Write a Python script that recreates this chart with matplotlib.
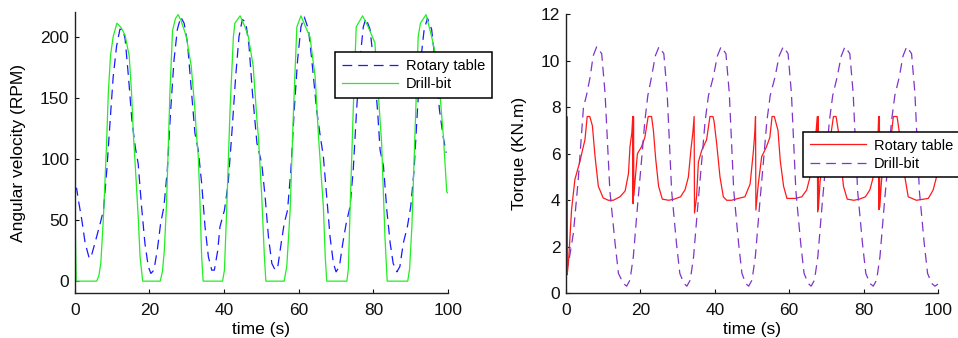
import matplotlib
matplotlib.use('Agg')
import matplotlib.pyplot as plt

plt.rcParams['font.family'] = ['Liberation Sans', 'DejaVu Sans']
plt.rcParams['lines.scale_dashes'] = False

# angular velocity (RPM), pairs (time s, value)
rotary_speed = [(0, 75), (0.5, 76), (1.0, 66), (1.9, 50), (2.8, 31), (3.9, 18.6), (4.4, 20), (5.4, 31),
                (6.8, 47), (7.7, 58), (8.6, 91), (9.5, 132), (10.3, 167), (11.2, 192), (12.1, 206),
                (12.9, 206), (13.5, 198), (14.4, 167), (15.3, 132), (16.2, 110), (17.0, 96), (17.9, 61),
                (18.8, 31), (19.7, 12), (20.4, 6.3), (21.2, 9), (22.1, 25), (23.0, 47), (23.9, 61),
                (24.8, 91), (25.7, 140), (26.6, 181), (27.5, 206), (28.4, 216), (29.3, 211), (30.2, 195),
                (31.3, 154), (32.2, 121), (33.1, 107), (34.0, 80), (34.9, 44.5), (35.8, 20), (36.7, 9),
                (37.4, 9), (38.3, 25), (38.9, 44.5), (40.1, 58), (41.1, 80), (42.2, 126), (43.1, 167),
                (44.0, 200), (44.9, 214), (45.8, 212), (46.7, 192), (47.6, 154), (48.8, 113), (50.1, 96),
                (51.0, 69), (51.9, 36), (52.8, 14.5), (53.7, 9), (54.4, 12), (55.3, 31), (56.1, 47),
                (57.0, 58), (57.9, 91), (58.8, 140), (59.7, 181), (60.6, 208), (61.5, 216), (62.6, 206),
                (63.5, 181), (64.8, 140), (65.8, 118), (66.6, 102), (67.5, 69), (68.4, 36), (69.3, 14.5),
                (70.0, 7.6), (70.9, 12), (71.8, 31), (72.7, 47), (73.75, 61), (74.6, 91), (75.5, 140),
                (76.4, 181), (77.3, 208), (78.0, 215), (79.1, 206), (80.0, 181), (81.1, 140), (81.8, 107),
                (82.7, 94), (83.6, 58), (84.5, 31), (85.3, 14.5), (86.3, 7.6), (87.1, 12), (88.0, 31),
                (89.1, 44.5), (90.0, 61), (90.9, 91), (91.8, 140), (92.7, 181), (93.6, 206), (94.5, 215),
                (95.6, 206), (96.5, 181), (97.7, 140), (98.7, 118), (99.5, 105)]

bit_speed = [(0, 70), (0.4, 0), (5.9, 0), (6.5, 5), (7.0, 15), (7.7, 53), (8.5, 110), (9.0, 154),
             (9.6, 185), (10.3, 200), (11.3, 211), (12.5, 207), (13.5, 201), (14.6, 184), (15.2, 155),
             (15.7, 121), (16.3, 90), (17.0, 53), (17.5, 20), (18.2, 0),
             (22.9, 0), (23.5, 8), (24.0, 25), (24.6, 64), (25.5, 154), (26.2, 205), (27.0, 215),
             (27.7, 218), (28.5, 213), (29.9, 200), (31.2, 176), (32.2, 140), (32.6, 120), (33.1, 102),
             (33.5, 69), (34.0, 20), (34.4, 0),
             (39.6, 0), (40.1, 9), (40.7, 58), (41.6, 140), (42.5, 200), (42.9, 211), (44.3, 217),
             (45.6, 208), (46.5, 200), (47.8, 176), (48.8, 132), (49.2, 118), (50.1, 69), (50.8, 20),
             (51.2, 0),
             (56.1, 0), (56.8, 12), (57.7, 58), (58.6, 140), (59.5, 208), (60.6, 217), (62.1, 206),
             (63.0, 200), (64.4, 167), (65.3, 118), (66.6, 61), (67.1, 20), (67.5, 0),
             (72.9, 0), (73.3, 10), (73.75, 58), (74.6, 140), (75.4, 208), (77.1, 217), (78.6, 208),
             (80.4, 195), (81.3, 154), (82.2, 113), (83.1, 36), (83.7, 0),
             (89.2, 0), (89.7, 10), (90.3, 44), (91.2, 126), (92.0, 200), (92.6, 211), (94.1, 218),
             (95.6, 200), (96.5, 187), (97.4, 170), (98.75, 118), (99.65, 73), (100, 72)]

# torque (KN.m), pairs (time s, value)
rotary_torque = [(0, 1.0), (0.08, 7.6), (0.16, 0.8), (0.24, 7.6), (0.32, 0.8), (0.45, 1.0), (0.7, 1.4),
                 (1.5, 3.6), (2.4, 4.9), (3.8, 5.7), (4.5, 6.2), (5.1, 6.6), (5.7, 7.6), (6.4, 7.6),
                 (7.1, 7.2), (7.8, 5.9), (8.7, 4.6), (10.0, 4.1), (11.4, 4.0), (12.7, 4.0), (14.5, 4.15),
                 (15.9, 4.4), (16.8, 5.15), (17.2, 6.3), (17.7, 6.9), (17.95, 7.6), (18.05, 3.85),
                 (18.15, 7.6), (18.25, 4.2),
                 (18.6, 4.9), (19.2, 6.0), (20.3, 6.3), (21.2, 6.7), (22.1, 7.6), (23.0, 7.6), (23.5, 7.0),
                 (24.1, 5.8), (24.9, 4.6), (25.9, 4.05), (27.6, 4.0), (29.1, 4.05), (30.8, 4.15),
                 (32.0, 4.45), (32.9, 5.0), (33.6, 6.2), (34.1, 6.9), (34.45, 7.6), (34.55, 3.45),
                 (35.1, 4.15), (35.6, 5.65), (36.5, 6.15), (37.8, 6.6), (38.7, 7.6), (39.5, 7.6),
                 (39.8, 7.4), (40.5, 6.45), (41.4, 5.0), (42.3, 4.15), (43.2, 4.0), (44.5, 4.0),
                 (46.3, 4.08), (48.1, 4.15), (49.5, 4.7), (50.4, 6.15), (50.8, 7.0), (50.95, 7.6),
                 (51.05, 3.58),
                 (51.7, 4.7), (52.6, 5.87), (53.9, 6.3), (54.8, 6.7), (55.4, 7.6), (56.0, 7.6), (57.0, 7.0),
                 (57.6, 5.7), (58.5, 4.6), (59.4, 4.08), (61.6, 4.08), (63.4, 4.15), (64.7, 4.44),
                 (65.6, 5.0), (66.6, 6.2), (67.2, 6.9), (67.55, 7.6), (67.65, 3.5), (67.75, 7.6),
                 (67.85, 3.6),
                 (68.3, 4.8), (69.0, 5.9), (70.2, 6.3), (71.1, 6.7), (71.9, 7.6), (72.6, 7.6), (73.2, 7.0),
                 (73.8, 5.8), (74.6, 4.6), (75.6, 4.05), (77.4, 4.0), (78.9, 4.05), (80.5, 4.15),
                 (81.7, 4.45), (82.6, 5.0), (83.4, 6.2), (83.9, 6.9), (84.05, 7.6), (84.15, 3.6),
                 (84.25, 7.6), (84.35, 3.7),
                 (84.8, 4.8), (85.5, 5.9), (86.7, 6.3), (87.4, 6.7), (88.0, 7.6), (89.0, 7.6), (89.9, 6.6),
                 (91.1, 5.0), (92.0, 4.15), (94.2, 4.0), (97.4, 4.08), (98.7, 4.44), (99.6, 5.0)]

bit_torque = [(0, 0.86), (1.0, 1.6), (2.0, 2.6), (3.3, 4.9), (4.7, 8.0), (5.5, 8.5), (6.5, 9.3),
              (7.3, 10.2), (8.25, 10.6), (9.6, 10.3), (10.5, 8.6), (11.8, 4.4), (13.2, 2.15),
              (14.1, 0.86), (15.4, 0.43), (16.3, 0.31),
              (17.2, 0.57), (18.1, 1.57), (19.2, 3.7), (20.3, 5.7), (21.2, 7.4), (22.0, 8.5), (23.0, 9.3),
              (24.0, 10.2), (25.0, 10.6), (26.3, 10.3), (27.2, 8.6), (28.4, 4.4), (29.7, 2.15),
              (30.6, 0.86), (31.7, 0.43), (32.5, 0.31),
              (33.4, 0.57), (34.3, 1.57), (35.4, 3.7), (36.5, 5.7), (37.4, 7.4), (38.3, 8.5), (39.6, 9.3),
              (40.7, 10.2), (41.7, 10.6), (43.0, 10.3), (43.9, 8.6), (45.1, 4.4), (46.4, 2.15),
              (47.3, 0.86), (48.3, 0.43), (49.1, 0.31),
              (50.0, 0.57), (50.9, 1.57), (52.0, 3.7), (53.1, 5.7), (54.0, 7.4), (54.9, 8.5), (56.2, 9.3),
              (57.3, 10.2), (58.4, 10.6), (59.7, 10.3), (60.6, 8.6), (61.8, 4.4), (63.1, 2.15),
              (64.0, 0.86), (65.1, 0.43), (65.9, 0.31),
              (66.8, 0.57), (67.7, 1.57), (68.8, 3.7), (69.9, 5.7), (70.8, 7.4), (71.7, 8.5), (72.9, 9.3),
              (74.0, 10.2), (75.0, 10.6), (76.3, 10.3), (77.2, 8.6), (78.4, 4.4), (79.7, 2.15),
              (80.6, 0.86), (81.7, 0.43), (82.6, 0.31),
              (83.5, 0.57), (84.4, 1.57), (85.5, 3.7), (86.6, 5.7), (87.5, 7.4), (88.4, 8.5), (89.6, 9.3),
              (90.6, 10.2), (91.6, 10.6), (92.9, 10.3), (93.8, 8.6), (95.0, 4.4), (96.3, 2.15),
              (97.2, 0.86), (98.3, 0.43), (99.2, 0.31), (100, 0.4)]

labels = ['Rotary table', 'Drill-bit']
fs = 12.5
dash = (0, (7, 4.3))

fig = plt.figure(figsize=(9.58, 3.38), dpi=100)
ax1 = fig.add_axes([0.078, 0.132, 0.3897, 0.832])
ax2 = fig.add_axes([0.5908, 0.132, 0.3883, 0.8263])

def style(ax):
    for s in ['top', 'right']:
        ax.spines[s].set_visible(False)
    for s in ['left', 'bottom']:
        ax.spines[s].set_color('#222222')
        ax.spines[s].set_linewidth(1.0)
    ax.tick_params(direction='in', length=3, width=0.8, labelsize=fs, pad=4, colors='#111111')
    ax.tick_params(axis='x', pad=7)
    ax.set_xlim(0, 100)
    ax.set_xticks([0, 20, 40, 60, 80, 100])
    ax.set_xlabel('time (s)', fontsize=fs, labelpad=3)

t, v = zip(*rotary_speed)
ax1.plot(t, v, color='#1a1aff', lw=0.9, linestyle=dash)
t, v = zip(*bit_speed)
ax1.plot(t, v, color='#22ee22', lw=0.9)
style(ax1)
ax1.set_ylim(-10, 220)
ax1.set_yticks([0, 50, 100, 150, 200])
ax1.set_ylabel('Angular velocity (RPM)', fontsize=fs, labelpad=10)
leg1 = ax1.legend(labels, loc='upper left', bbox_to_anchor=(0.3497, 0.846), bbox_transform=fig.transFigure,
                  fontsize=10.5, handlelength=3.9, handletextpad=0.5, borderpad=0.45, labelspacing=0.3,
                  fancybox=False, framealpha=1, edgecolor='black', borderaxespad=0)
leg1.get_frame().set_linewidth(1.1)

t, v = zip(*rotary_torque)
ax2.plot(t, v, color='#ff1a1a', lw=0.9)
t, v = zip(*bit_torque)
ax2.plot(t, v, color='#7f35c8', lw=0.9, linestyle=dash)
style(ax2)
ax2.set_ylim(0, 12)
ax2.set_yticks(range(0, 13, 2))
ax2.set_ylabel('Torque (KN.m)', fontsize=fs, labelpad=10)
leg2 = ax2.legend(labels, loc='upper left', bbox_to_anchor=(0.8382, 0.6095), bbox_transform=fig.transFigure,
                  fontsize=10.5, handlelength=3.9, handletextpad=0.5, borderpad=0.45, labelspacing=0.3,
                  fancybox=False, framealpha=1, edgecolor='black', borderaxespad=0)
leg2.get_frame().set_linewidth(1.1)

plt.savefig('out.png', dpi=100)
